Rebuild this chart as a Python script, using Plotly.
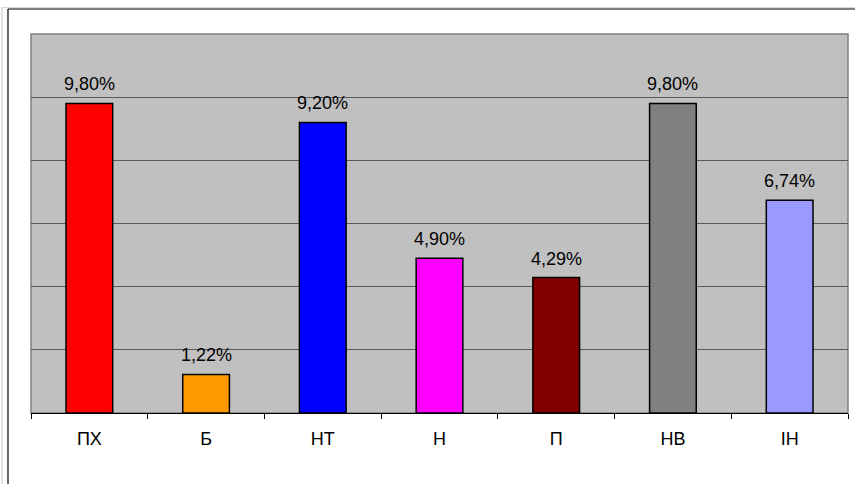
import plotly.graph_objects as go

categories = ["ПХ", "Б", "НТ", "Н", "П", "НВ", "ІН"]
values = [9.80, 1.22, 9.20, 4.90, 4.29, 9.80, 6.74]
colors = ["#FF0000", "#FF9900", "#0000FF", "#FF00FF", "#800000", "#808080", "#9999FF"]
labels = [f"{v:.2f}%".replace(".", ",") for v in values]

W, H = 855, 484
L, R, T, B = 31, 7, 34, 71
pw, ph = W - L - R, H - T - B
FONT = "Liberation Sans, Arial"

def px_x(x):
    return (x - L) / pw

def px_y(y):
    return (H - B - y) / ph

fig = go.Figure(go.Bar(
    x=categories, y=values,
    marker=dict(color=colors, line=dict(color="#000000", width=1.5)),
))

annotations = [
    dict(x=c, y=v, text=t, xref="x", yref="y", showarrow=False,
         yanchor="bottom", yshift=7,
         font=dict(family=FONT, size=18, color="#000000"))
    for c, v, t in zip(categories, values, labels)
]

fig.update_layout(
    width=W, height=H,
    margin=dict(l=L, r=R, t=T, b=B),
    paper_bgcolor="#FFFFFF", plot_bgcolor="#C0C0C0",
    bargap=0.6, showlegend=False,
    font=dict(family=FONT, size=18, color="#000000"),
    annotations=annotations,
    xaxis=dict(showline=True, linecolor="#000000", linewidth=1,
               ticks="outside", tickson="boundaries", ticklen=5, tickcolor="#000000",
               tickfont=dict(size=18), ticklabelstandoff=9, showgrid=False),
    yaxis=dict(range=[0, 12], dtick=2, showticklabels=False, ticks="",
               showgrid=True, gridcolor="#5a5a5a", gridwidth=1, zeroline=False,
               showline=False),
    shapes=[
        dict(type="rect", xref="paper", yref="paper", x0=0, x1=1, y0=0, y1=1,
             line=dict(color="#808080", width=1.5), layer="below"),
        dict(type="line", xref="paper", yref="paper", x0=px_x(8), x1=px_x(8),
             y0=px_y(9), y1=px_y(490), line=dict(color="#000000", width=1.2)),
        dict(type="line", xref="paper", yref="paper", x0=px_x(8), x1=px_x(860),
             y0=px_y(9), y1=px_y(9), line=dict(color="#000000", width=1.2)),
        dict(type="line", xref="paper", yref="paper", x0=px_x(2), x1=px_x(2),
             y0=px_y(7), y1=px_y(490), line=dict(color="#D8D8D8", width=1.5)),
        dict(type="line", xref="paper", yref="paper", x0=px_x(2), x1=px_x(860),
             y0=px_y(7.5), y1=px_y(7.5), line=dict(color="#D8D8D8", width=1)),
    ],
)

fig.write_html("out.html")
